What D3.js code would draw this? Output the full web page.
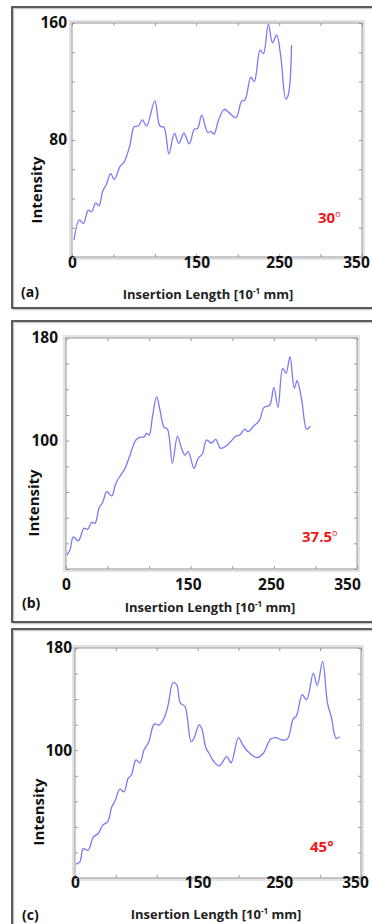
<!DOCTYPE html>
<html><head><meta charset="utf-8">
<script src="https://cdn.jsdelivr.net/npm/d3@7"></script>
<style>body{margin:0;background:#fff;} svg{display:block}</style>
</head><body>
<svg id="chart" width="372" height="924"></svg>
<script>
// ---- data ----
const lengthA = [2.4, 8.8, 13.7, 19.7, 23.7, 28.6, 32.6, 37, 41, 46.7, 51, 58, 63, 70, 75, 80, 85, 90, 100, 106, 111, 117, 123.5, 129, 135, 141.6, 147.6, 151.7, 156.5, 163.7, 167.8, 171.4, 176.6, 183.8, 191.5, 198, 204.8, 208.8, 215.7, 220, 227, 231, 237, 242, 247, 252, 258, 261, 265];
const intensityA = [11.6, 25.3, 23, 32, 31, 37, 35, 45, 49, 57, 53, 62, 65, 76.6, 89, 89.6, 93.7, 89.6, 106.7, 89.6, 88.7, 70.4, 84.6, 77.7, 84.6, 77.3, 87.3, 88, 97, 85.3, 85.7, 84, 93.2, 101, 97.6, 95.3, 106.7, 107.3, 122.9, 120, 141.5, 139, 159, 146.5, 151.8, 137, 108, 110.8, 145];

const lengthB = [0.8, 4.8, 8.8, 14.8, 21.6, 26, 30.9, 34.9, 40, 44, 49, 55, 60, 65.8, 71, 77, 84, 89, 94, 97, 100, 104, 109, 113, 118, 122, 128, 134, 139, 143, 147, 154, 159, 164, 169, 175, 180, 186, 193, 198, 204.5, 209, 215, 219, 225, 232.5, 238, 245, 250, 255, 260.6, 264.6, 269.4, 274.6, 278, 283.5, 289.5, 294];
const intensityB = [10.9, 14.8, 25, 22, 31.7, 31, 36.4, 35.6, 48, 51.7, 60.2, 57, 66.8, 73.2, 78.4, 88.8, 100.5, 102.6, 103, 105.7, 104.4, 118.7, 134.3, 123.9, 110.4, 109, 82.4, 103.6, 94, 88.8, 91.4, 78.4, 86.3, 89.6, 100.5, 98, 101, 94, 96, 99.2, 103.6, 104.4, 109, 107, 110.9, 115.6, 125.7, 127.8, 141.6, 126, 156.4, 152.5, 165.4, 140.8, 146.7, 131.7, 108.9, 111.4];

const lengthC = [1.2, 6, 10, 16, 22.4, 28.5, 34, 40, 45, 49, 55, 60, 65, 69, 74.6, 79.5, 84.4, 90, 97, 103, 109, 114, 120, 124.5, 129, 134.6, 142, 145.6, 151.8, 155, 160, 164, 170, 176.6, 185.6, 191, 200, 206, 214, 223, 230.5, 239.5, 246, 253, 260, 267, 271, 278, 283.5, 291.7, 296.5, 303, 309, 314, 319.4, 324];
const intensityC = [10.8, 12.6, 23, 21.7, 32, 34.8, 41.4, 44, 55.7, 60.2, 69.6, 67.5, 78, 80.6, 92.4, 90.2, 100.2, 106, 120.4, 119.8, 125, 135.5, 153, 151.2, 136.8, 134.2, 106.7, 109.4, 119.8, 117.2, 102.3, 97.6, 91, 87.7, 95, 90.2, 109.9, 103.3, 97.6, 94.2, 97.6, 108.8, 109.9, 108, 108.8, 124.5, 126.9, 143.4, 139.4, 160.4, 150.7, 169.5, 136.8, 125, 109.4, 110.6];

const xTickValues = [0, 50, 100, 150, 200, 250, 300, 350];
const xLabelValues = [0, 150, 250, 350];
const yTicksA = [0, 20, 40, 60, 80, 100, 120, 140, 160];
const yLabelsA = [80, 160];
const yTicksBC = [0, 20, 40, 60, 80, 100, 120, 140, 160, 180];
const yLabelsBC = [100, 180];
const panelTags = ["(a)", "(b)", "(c)"];
const angleNumbers = ["30", "37.5", "45"];
const yAxisTitle = "Intensity";

// ---- layout ----
const panels = [
  {xs: lengthA, ys: intensityA, yTicks: yTicksA, yLabels: yLabelsA, ymax: 160,
   box: [12, 7, 390, 308], plot: [72, 23, 362, 257], xPad: 0, yPad: 5, lblShift: 0, lastShift: -6,
   ytitle: [36, 190], title: [208, 299], tag: [21, 297], angle: [318, 223], superO: true},
  {xs: lengthB, ys: intensityB, yTicks: yTicksBC, yLabels: yLabelsBC, ymax: 180,
   box: [12, 321, 390, 622], plot: [66, 338, 357, 569], xPad: 10, yPad: 8, lblShift: -3, lastShift: -10,
   ytitle: [33, 503], title: [210, 612], tag: [22, 608], angle: [302, 542], superO: true},
  {xs: lengthC, ys: intensityC, yTicks: yTicksBC, yLabels: yLabelsBC, ymax: 180,
   box: [12, 629, 390, 960], plot: [75, 648, 361, 878], xPad: -1, yPad: 3, lblShift: 0, lastShift: -6,
   ytitle: [37.5, 812], title: [216, 919], tag: [22, 920], angle: [310, 852], superO: false}
];

const svg = d3.select("#chart");
const FONT = "'Open Sans', 'DejaVu Sans', sans-serif";

panels.forEach((p, i) => {
  const g = svg.append("g");
  const [bx0, by0, bx1, by1] = p.box;
  g.append("rect").attr("x", bx0 + 1.5).attr("y", by0 + 1.5).attr("width", bx1 - bx0).attr("height", by1 - by0)
    .attr("fill", "none").attr("stroke", "#c8c8c8").attr("stroke-width", 1.5);
  g.append("rect").attr("x", bx0).attr("y", by0).attr("width", bx1 - bx0).attr("height", by1 - by0)
    .attr("fill", "none").attr("stroke", "#4a4a4a").attr("stroke-width", 1.8);

  const [px0, py0, px1, py1] = p.plot;
  const x = d3.scaleLinear().domain([0, 350]).range([px0, px1]);
  const y = d3.scaleLinear().domain([0, p.ymax]).range([py1, py0]);

  g.append("rect").attr("x", px0 - 1.5).attr("y", py0 - 1.5).attr("width", px1 - px0 + 3).attr("height", py1 - py0 + 3)
    .attr("fill", "none").attr("stroke", "#e2e2e2").attr("stroke-width", 3);
  g.append("rect").attr("x", px0).attr("y", py0).attr("width", px1 - px0).attr("height", py1 - py0)
    .attr("fill", "none").attr("stroke", "#a9a9a9").attr("stroke-width", 1.2);

  const styleAxis = sel => {
    sel.select(".domain").remove();
    sel.selectAll(".tick line").attr("stroke", "#999").attr("stroke-width", 1);
    sel.selectAll(".tick text").attr("font-family", FONT).attr("font-weight", "bold")
      .attr("font-size", 15.5).attr("fill", "#111");
  };

  const xb = g.append("g").attr("transform", `translate(0,${py1})`)
    .call(d3.axisBottom(x).tickValues(xTickValues).tickSize(-3).tickPadding(p.xPad)
      .tickFormat(d => xLabelValues.includes(d) ? d : ""))
    .call(styleAxis);
  xb.selectAll(".tick text").attr("dx", d => d === 350 ? p.lastShift : (d === 0 ? 0 : p.lblShift));
  g.append("g").attr("transform", `translate(0,${py0})`)
    .call(d3.axisTop(x).tickValues(xTickValues).tickSize(-3).tickFormat(""))
    .call(styleAxis);
  g.append("g").attr("transform", `translate(${px0},0)`)
    .call(d3.axisLeft(y).tickValues(p.yTicks).tickSize(-3).tickPadding(p.yPad)
      .tickFormat(d => p.yLabels.includes(d) ? d : ""))
    .call(styleAxis);
  g.append("g").attr("transform", `translate(${px1},0)`)
    .call(d3.axisRight(y).tickValues(p.yTicks).tickSize(-3).tickFormat(""))
    .call(styleAxis);

  const pts = p.xs.map((v, k) => [v, p.ys[k]]);
  g.append("path").datum(pts)
    .attr("d", d3.line().x(d => x(d[0])).y(d => y(d[1])).curve(d3.curveCatmullRom.alpha(0.5)))
    .attr("fill", "none").attr("stroke", "#7a7af4").attr("stroke-width", 1.3);

  g.append("text").attr("transform", `translate(${p.ytitle[0]},${p.ytitle[1]}) rotate(-90)`)
    .attr("text-anchor", "middle").attr("dominant-baseline", "central")
    .attr("font-family", FONT).attr("font-weight", "bold").attr("font-size", 15).attr("fill", "#111")
    .text(yAxisTitle);

  const t = g.append("text").attr("x", p.title[0]).attr("y", p.title[1]).attr("text-anchor", "middle")
    .attr("font-family", FONT).attr("font-weight", "bold").attr("font-size", 13).attr("fill", "#222");
  t.append("tspan").text("Insertion Length [10");
  t.append("tspan").attr("font-size", 8).attr("dy", -5).text("-1");
  t.append("tspan").attr("dy", 5).text(" mm]");

  g.append("text").attr("x", p.tag[0]).attr("y", p.tag[1])
    .attr("font-family", FONT).attr("font-weight", "bold").attr("font-size", 14).attr("fill", "#111")
    .text(panelTags[i]);

  const a = g.append("text").attr("x", p.angle[0]).attr("y", p.angle[1])
    .attr("font-family", FONT).attr("font-weight", "bold").attr("font-size", 15).attr("fill", "#f01818");
  if (p.superO) {
    a.append("tspan").text(angleNumbers[i]);
    a.append("tspan").attr("font-size", 9).attr("font-weight", "normal").attr("dy", -6).text("o");
  } else {
    a.text(angleNumbers[i] + "°");
  }
});
</script>
</body></html>
